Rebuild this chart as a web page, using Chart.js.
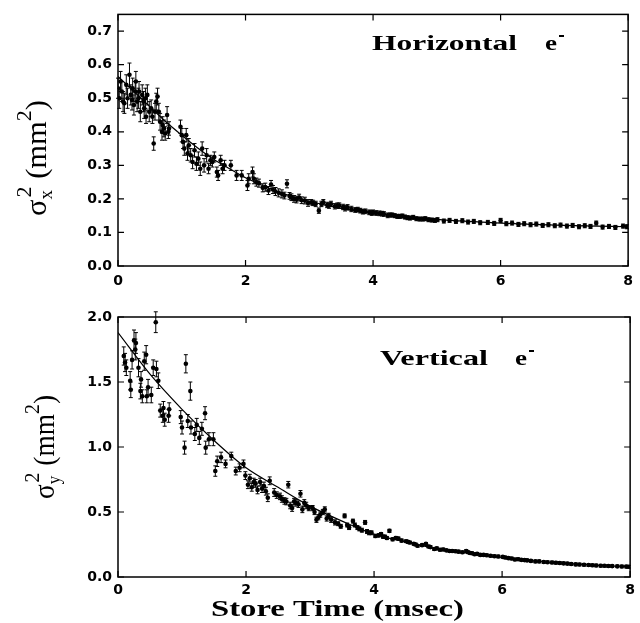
<!DOCTYPE html>
<html>
<head>
<meta charset="utf-8">
<script src="https://cdn.jsdelivr.net/npm/chart.js@4"></script>
<style>
  body { margin: 0; background: #fff; }
  #wrap { position: relative; width: 640px; height: 623px; }
  #wrap canvas { position: absolute; left: 0; }
</style>
</head>
<body>
<div id="wrap">
  <canvas id="topChart" width="640" height="300" style="top:0"></canvas>
  <canvas id="bottomChart" width="640" height="323" style="top:300px"></canvas>
</div>
<script>
// --- tick labels ---
const timeTicks = [0, 2, 4, 6, 8];
const horizTicks = [0.0, 0.1, 0.2, 0.3, 0.4, 0.5, 0.6, 0.7];
const vertTicks = [0.0, 0.5, 1.0, 1.5, 2.0];

// --- horizontal e- : store time (msec), sigma_x^2 (mm^2), error ---
const horizTime = [
  0.00, 0.02, 0.04, 0.06, 0.08, 0.10, 0.13, 0.15, 0.18, 0.20,
  0.22, 0.23, 0.25, 0.27, 0.28, 0.30, 0.32, 0.33, 0.35, 0.38,
  0.40, 0.41, 0.43, 0.44, 0.46, 0.49, 0.52, 0.54, 0.56, 0.58,
  0.60, 0.62, 0.64, 0.66, 0.69, 0.70, 0.72, 0.74, 0.77, 0.79,
  0.80, 0.98, 1.00, 1.02, 1.04, 1.07, 1.09, 1.11, 1.14, 1.17,
  1.20, 1.23, 1.26, 1.29, 1.32, 1.35, 1.39, 1.42, 1.45, 1.48,
  1.51, 1.55, 1.57, 1.61, 1.64, 1.67, 1.77, 1.86, 1.94, 2.03,
  2.05, 2.11, 2.13, 2.21, 2.27, 2.40, 2.43, 2.52, 2.65, 2.69,
  2.76, 2.84, 2.93, 2.98, 3.03, 3.10, 3.15, 3.22, 3.28, 3.34,
  3.40, 3.47, 3.53, 3.60, 3.66, 3.72, 3.80, 3.88, 3.94, 4.00,
  4.05, 4.10, 4.17, 4.23, 4.30, 4.38, 4.46, 4.54, 4.63, 4.73,
  4.82, 4.92, 5.01, 5.11, 5.20, 5.30, 5.40, 5.49, 5.58, 5.68,
  5.80, 5.90, 6.00, 6.09, 6.18, 6.28, 6.37, 6.47, 6.56, 6.66,
  6.75, 6.85, 6.94, 7.04, 7.13, 7.23, 7.32, 7.41, 7.50, 7.60,
  7.70, 7.80, 7.92, 7.98,
  2.17, 2.31, 2.36, 2.47, 2.57, 2.61, 2.72, 2.80, 2.88, 3.06,
  3.19, 3.31, 3.44, 3.56, 3.76, 3.84, 3.98, 4.14, 4.27, 4.34,
  4.42, 4.50, 4.58, 4.68, 4.78, 4.87, 4.97
];
const horizSigma = [
  0.53, 0.50, 0.55, 0.52, 0.49, 0.485, 0.54, 0.50, 0.57, 0.51,
  0.495, 0.53, 0.48, 0.52, 0.55, 0.49, 0.50, 0.52, 0.46, 0.51,
  0.49, 0.47, 0.50, 0.445, 0.51, 0.46, 0.47, 0.445, 0.365, 0.46,
  0.49, 0.505, 0.46, 0.43, 0.40, 0.42, 0.41, 0.395, 0.45, 0.40,
  0.41, 0.415, 0.39, 0.37, 0.35, 0.39, 0.335, 0.36, 0.33, 0.31,
  0.345, 0.305, 0.32, 0.29, 0.35, 0.30, 0.33, 0.29, 0.315, 0.31,
  0.325, 0.28, 0.27, 0.315, 0.29, 0.30, 0.30, 0.27, 0.27, 0.24,
  0.26, 0.28, 0.26, 0.247, 0.233, 0.243, 0.228, 0.218, 0.245, 0.209,
  0.200, 0.204, 0.195, 0.188, 0.190, 0.185, 0.165, 0.190, 0.182, 0.185,
  0.178, 0.180, 0.176, 0.175, 0.170, 0.167, 0.165, 0.163, 0.160, 0.160,
  0.158, 0.157, 0.155, 0.151, 0.152, 0.148, 0.149, 0.144, 0.145, 0.140,
  0.141, 0.137, 0.138, 0.134, 0.136, 0.133, 0.135, 0.131, 0.133, 0.129,
  0.130, 0.127, 0.136, 0.126, 0.128, 0.124, 0.126, 0.123, 0.125, 0.121,
  0.123, 0.120, 0.122, 0.119, 0.121, 0.117, 0.120, 0.118, 0.128, 0.116,
  0.118, 0.115, 0.119, 0.117,
  0.250, 0.235, 0.225, 0.222, 0.215, 0.210, 0.205, 0.198, 0.196, 0.188,
  0.185, 0.180, 0.180, 0.172, 0.168, 0.162, 0.158, 0.156, 0.152, 0.150,
  0.148, 0.146, 0.143, 0.141, 0.140, 0.138, 0.136
];
const horizErr = [
  0.03, 0.03, 0.03, 0.03, 0.03, 0.03, 0.03, 0.03, 0.035, 0.03,
  0.03, 0.03, 0.03, 0.03, 0.03, 0.03, 0.03, 0.03, 0.03, 0.03,
  0.03, 0.03, 0.03, 0.02, 0.03, 0.03, 0.025, 0.02, 0.02, 0.025,
  0.025, 0.025, 0.025, 0.025, 0.025, 0.025, 0.025, 0.02, 0.025, 0.02,
  0.02, 0.02, 0.02, 0.02, 0.02, 0.02, 0.02, 0.02, 0.02, 0.02,
  0.02, 0.02, 0.02, 0.02, 0.02, 0.02, 0.02, 0.015, 0.015, 0.015,
  0.015, 0.015, 0.015, 0.015, 0.015, 0.015, 0.015, 0.015, 0.015, 0.015,
  0.015, 0.015, 0.015, 0.012, 0.012, 0.012, 0.012, 0.012, 0.012, 0.01,
  0.01, 0.01, 0.01, 0.01, 0.008, 0.008, 0.008, 0.008, 0.008, 0.008,
  0.008, 0.008, 0.008, 0.008, 0.008, 0.007, 0.007, 0.007, 0.007, 0.007,
  0.007, 0.007, 0.007, 0.007, 0.006, 0.006, 0.006, 0.006, 0.006, 0.006,
  0.006, 0.006, 0.006, 0.006, 0.006, 0.006, 0.006, 0.006, 0.006, 0.006,
  0.006, 0.006, 0.006, 0.006, 0.006, 0.006, 0.006, 0.006, 0.006, 0.006,
  0.006, 0.006, 0.006, 0.006, 0.006, 0.006, 0.006, 0.006, 0.006, 0.006,
  0.006, 0.006, 0.006, 0.006,
  0.012, 0.012, 0.012, 0.012, 0.012, 0.01, 0.01, 0.01, 0.01, 0.008,
  0.008, 0.008, 0.008, 0.008, 0.007, 0.007, 0.007, 0.007, 0.006, 0.006,
  0.006, 0.006, 0.006, 0.006, 0.006, 0.006, 0.006
];
const horizFitTime = [0, 0.25, 0.5, 0.75, 1, 1.25, 1.5, 1.75, 2, 2.5, 3, 3.5, 4, 4.5, 5, 5.5, 6, 6.5, 7, 7.5, 8];
const horizFitSigma = [0.565, 0.52, 0.475, 0.43, 0.39, 0.352, 0.318, 0.29, 0.263, 0.222, 0.193, 0.172, 0.158, 0.147, 0.139, 0.133, 0.128, 0.124, 0.121, 0.119, 0.117];

// --- vertical e- : store time (msec), sigma_y^2 (mm^2), error ---
const vertTime = [
  0.09, 0.11, 0.13, 0.19, 0.20, 0.22, 0.25, 0.27, 0.28, 0.32,
  0.35, 0.36, 0.38, 0.41, 0.44, 0.45, 0.47, 0.52, 0.55, 0.59,
  0.60, 0.63, 0.66, 0.70, 0.71, 0.73, 0.79, 0.80, 0.98, 1.00,
  1.04, 1.06, 1.09, 1.13, 1.14, 1.20, 1.23, 1.27, 1.31, 1.36,
  1.37, 1.42, 1.49, 1.52, 1.55, 1.61, 1.68, 1.77, 1.84, 1.90,
  1.96, 1.99, 2.03, 2.06, 2.09, 2.12, 2.18, 2.22, 2.28, 2.34,
  2.37, 2.44, 2.53, 2.60, 2.66, 2.72, 2.78, 2.85, 2.88, 2.94,
  3.04, 3.10, 3.16, 3.23, 3.29, 3.39, 3.48, 3.54, 3.61, 3.67,
  3.77, 3.86, 3.92, 4.02, 4.11, 4.17, 4.24, 4.34, 4.43, 4.50,
  4.56, 4.62, 4.68, 4.81, 4.88, 4.94, 5.03, 5.13, 5.22, 5.32,
  5.44, 5.50, 5.57, 5.66, 5.76, 5.88, 6.01, 6.10, 6.20, 6.30,
  6.39, 6.52, 6.65, 6.78, 6.90, 7.02, 7.15, 7.28, 7.41, 7.54,
  7.66, 7.80, 7.94,
  2.15, 2.25, 2.31, 2.48, 2.56, 2.63, 2.69, 2.75, 2.82, 2.91,
  2.98, 3.07, 3.13, 3.20, 3.26, 3.33, 3.44, 3.58, 3.70, 3.74,
  3.81, 3.89, 3.96, 4.07, 4.14, 4.20, 4.29, 4.38,
  4.53, 4.65, 4.75, 4.85, 4.98, 5.08, 5.18, 5.27, 5.38, 5.47,
  5.53, 5.61, 5.71, 5.82, 5.94, 6.05, 6.15, 6.25, 6.35, 6.45,
  6.58, 6.71, 6.84, 6.96, 7.08, 7.21, 7.35, 7.47, 7.60, 7.72,
  7.87, 7.98
];
const vertSigma = [
  1.70, 1.65, 1.61, 1.51, 1.44, 1.67, 1.82, 1.75, 1.80, 1.61,
  1.43, 1.52, 1.39, 1.66, 1.71, 1.39, 1.46, 1.40, 1.61, 1.96,
  1.60, 1.51, 1.28, 1.24, 1.30, 1.21, 1.24, 1.29, 1.23, 1.15,
  0.995, 1.64, 1.20, 1.43, 1.15, 1.10, 1.17, 1.07, 1.14, 1.26,
  0.995, 1.06, 1.06, 0.815, 0.89, 0.92, 0.87, 0.93, 0.815, 0.84,
  0.87, 0.78, 0.71, 0.76, 0.69, 0.73, 0.67, 0.73, 0.70, 0.61,
  0.74, 0.65, 0.62, 0.585, 0.71, 0.53, 0.57, 0.64, 0.52, 0.55,
  0.53, 0.44, 0.48, 0.52, 0.47, 0.42, 0.39, 0.47, 0.38, 0.43,
  0.37, 0.42, 0.34, 0.315, 0.33, 0.31, 0.355, 0.30, 0.28, 0.275,
  0.265, 0.255, 0.24, 0.255, 0.23, 0.215, 0.21, 0.205, 0.20, 0.195,
  0.20, 0.185, 0.175, 0.17, 0.167, 0.16, 0.155, 0.145, 0.135, 0.132,
  0.128, 0.12, 0.115, 0.112, 0.108, 0.103, 0.097, 0.094, 0.09, 0.087,
  0.085, 0.082, 0.08,
  0.72, 0.68, 0.66, 0.63, 0.60, 0.58, 0.55, 0.58, 0.56, 0.57,
  0.53, 0.50, 0.46, 0.50, 0.45, 0.44, 0.41, 0.40, 0.40, 0.38,
  0.36, 0.35, 0.34, 0.32, 0.31, 0.30, 0.29, 0.295,
  0.27, 0.25, 0.245, 0.235, 0.22, 0.212, 0.20, 0.198, 0.19, 0.19,
  0.183, 0.178, 0.17, 0.163, 0.158, 0.15, 0.142, 0.137, 0.13, 0.124,
  0.12, 0.114, 0.11, 0.105, 0.10, 0.096, 0.092, 0.089, 0.086, 0.084,
  0.081, 0.079
];
const vertErr = [
  0.07, 0.07, 0.06, 0.07, 0.06, 0.07, 0.08, 0.08, 0.08, 0.07,
  0.06, 0.06, 0.05, 0.07, 0.07, 0.05, 0.06, 0.06, 0.06, 0.08,
  0.06, 0.06, 0.05, 0.05, 0.05, 0.05, 0.05, 0.05, 0.05, 0.05,
  0.05, 0.07, 0.05, 0.07, 0.05, 0.05, 0.05, 0.05, 0.05, 0.05,
  0.05, 0.05, 0.05, 0.04, 0.04, 0.04, 0.03, 0.03, 0.03, 0.03,
  0.03, 0.03, 0.03, 0.03, 0.03, 0.03, 0.03, 0.03, 0.03, 0.03,
  0.03, 0.03, 0.025, 0.025, 0.025, 0.025, 0.025, 0.025, 0.025, 0.025,
  0.02, 0.02, 0.02, 0.02, 0.02, 0.02, 0.015, 0.015, 0.015, 0.015,
  0.015, 0.015, 0.015, 0.012, 0.012, 0.012, 0.012, 0.012, 0.012, 0.01,
  0.01, 0.01, 0.01, 0.01, 0.01, 0.01, 0.01, 0.01, 0.01, 0.01,
  0.01, 0.01, 0.01, 0.01, 0.01, 0.01, 0.01, 0.01, 0.01, 0.01,
  0.01, 0.01, 0.01, 0.01, 0.01, 0.01, 0.01, 0.01, 0.01, 0.01,
  0.01, 0.01, 0.01,
  0.03, 0.03, 0.03, 0.025, 0.025, 0.025, 0.025, 0.025, 0.025, 0.025,
  0.02, 0.02, 0.02, 0.02, 0.02, 0.02, 0.015, 0.015, 0.015, 0.015,
  0.015, 0.015, 0.015, 0.012, 0.012, 0.012, 0.012, 0.012,
  0.01, 0.01, 0.01, 0.01, 0.01, 0.01, 0.01, 0.01, 0.01, 0.01,
  0.01, 0.01, 0.01, 0.01, 0.01, 0.01, 0.01, 0.01, 0.01, 0.01,
  0.01, 0.01, 0.01, 0.01, 0.01, 0.01, 0.01, 0.01, 0.01, 0.01,
  0.01, 0.01
];
const vertFitTime = [0, 0.5, 1, 1.5, 2, 2.5, 3, 3.5, 4, 4.5, 5, 5.5, 6, 6.5, 7, 7.5, 8];
const vertFitSigma = [1.88, 1.56, 1.29, 1.05, 0.84, 0.69, 0.545, 0.43, 0.33, 0.27, 0.215, 0.18, 0.15, 0.125, 0.105, 0.09, 0.08];

const toPoints = (xs, ys) => xs.map((x, i) => ({ x: x, y: ys[i] }));

// error bars, frame and inward ticks
const frameAndBars = {
    id: 'frameAndBars',
    afterDatasetsDraw(chart) {
        const { ctx, chartArea: a, scales: { x, y } } = chart;
        ctx.save();
        ctx.strokeStyle = '#000';
        ctx.lineWidth = 1;
        chart.data.datasets.forEach(ds => {
            if (!ds.errors) return;
            ds.data.forEach((p, i) => {
                const px = x.getPixelForValue(p.x);
                const y1 = y.getPixelForValue(p.y - ds.errors[i]);
                const y2 = y.getPixelForValue(p.y + ds.errors[i]);
                ctx.beginPath();
                ctx.moveTo(px, y1); ctx.lineTo(px, y2);
                ctx.moveTo(px - 2, y1); ctx.lineTo(px + 2, y1);
                ctx.moveTo(px - 2, y2); ctx.lineTo(px + 2, y2);
                ctx.stroke();
            });
        });
        ctx.lineWidth = 1.5;
        ctx.strokeRect(a.left, a.top, a.right - a.left, a.bottom - a.top);
        ctx.lineWidth = 1.2;
        ctx.beginPath();
        y.ticks.forEach(t => {
            const py = y.getPixelForValue(t.value);
            ctx.moveTo(a.left, py); ctx.lineTo(a.left + 6, py);
            ctx.moveTo(a.right, py); ctx.lineTo(a.right - 6, py);
        });
        x.ticks.forEach(t => {
            const px = x.getPixelForValue(t.value);
            ctx.moveTo(px, a.bottom); ctx.lineTo(px, a.bottom - 6);
            ctx.moveTo(px, a.top); ctx.lineTo(px, a.top + 6);
        });
        ctx.stroke();
        ctx.restore();
    }
};

// stretched serif text to match the figure's wide lettering
function stretchText(ctx, text, x, baseline, width, font) {
    ctx.font = font;
    const w = ctx.measureText(text).width;
    ctx.save();
    ctx.translate(x, baseline);
    ctx.scale(width / w, 1);
    ctx.fillText(text, 0, 0);
    ctx.restore();
}

function drawYTitle(ctx, sub, cx, cy, len) {
    const main = '29px "Liberation Serif"';
    const small = '18px "Liberation Serif"';
    const sup = '21px "Liberation Serif"';
    const m = (t, f) => { ctx.font = f; return ctx.measureText(t).width; };
    const sigmaW = m('σ', main), subW = m(sub, small), supW = m('2', sup);
    const openW = m(' (mm', main), closeW = m(')', main);
    const stackW = Math.max(subW, supW + 2);
    const total = sigmaW + stackW + openW + supW + closeW;
    ctx.save();
    ctx.translate(cx, cy);
    ctx.rotate(-Math.PI / 2);
    ctx.scale(len / total, 1);
    let p = -total / 2;
    ctx.font = main; ctx.fillText('σ', p, 0); p += sigmaW;
    ctx.font = small; ctx.fillText(sub, p, 6);
    ctx.font = sup; ctx.fillText('2', p + 2, -15); p += stackW;
    ctx.font = main; ctx.fillText(' (mm', p, 0); p += openW;
    ctx.font = sup; ctx.fillText('2', p, -15); p += supW;
    ctx.font = main; ctx.fillText(')', p, 0);
    ctx.restore();
}

const panelText = {
    id: 'panelText',
    afterDraw(chart, args, o) {
        const ctx = chart.ctx;
        ctx.save();
        ctx.fillStyle = '#000';
        ctx.textBaseline = 'alphabetic';
        ctx.textAlign = 'left';
        drawYTitle(ctx, o.sub, o.titleX, o.titleY, o.titleLen);
        stretchText(ctx, o.label, o.labelX, o.labelY, o.labelW, 'bold 21px "Liberation Serif"');
        stretchText(ctx, 'e', o.eX, o.labelY, 12, 'bold 21px "Liberation Serif"');
        ctx.fillRect(o.eX + 14, o.labelY - 15, 5, 2);
        if (o.xTitle) {
            stretchText(ctx, o.xTitle, o.xTitleX, o.xTitleY, o.xTitleW, 'bold 24px "Liberation Serif"');
        }
        ctx.restore();
    }
};

const tickFont = { family: 'DejaVu Sans', weight: 'bold', size: 14 };

function makeChart(id, pts, errs, fit, yTicks, yMax, padTop, xHeight, xPad, text) {
    return new Chart(document.getElementById(id), {
        type: 'scatter',
        data: {
            datasets: [{
                type: 'line',
                data: fit,
                borderColor: '#000',
                borderWidth: 1.2,
                pointRadius: 0,
                tension: 0.4,
                cubicInterpolationMode: 'monotone'
            }, {
                data: pts,
                errors: errs,
                backgroundColor: '#000',
                borderWidth: 0,
                pointRadius: 2.3
            }]
        },
        options: {
            responsive: false,
            animation: false,
            events: [],
            layout: { padding: { top: padTop, right: 4, left: 0, bottom: 0 } },
            plugins: { legend: { display: false }, tooltip: { enabled: false }, panelText: text },
            scales: {
                x: {
                    type: 'linear', min: 0, max: 8,
                    afterBuildTicks: s => { s.ticks = timeTicks.map(v => ({ value: v })); },
                    afterFit: s => { s.height = xHeight; },
                    grid: { display: false, drawTicks: false },
                    border: { display: false },
                    ticks: { font: tickFont, color: '#000', padding: xPad, autoSkip: false, maxRotation: 0, callback: v => String(v) }
                },
                y: {
                    type: 'linear', min: 0, max: yMax,
                    afterBuildTicks: s => { s.ticks = yTicks.map(v => ({ value: v })); },
                    afterFit: s => { s.width = 118; },
                    grid: { display: false, drawTicks: false },
                    border: { display: false },
                    ticks: { font: tickFont, color: '#000', padding: 6, autoSkip: false, callback: v => v.toFixed(1) }
                }
            }
        },
        plugins: [frameAndBars, panelText]
    });
}

makeChart('topChart',
    toPoints(horizTime, horizSigma), horizErr, toPoints(horizFitTime, horizFitSigma),
    horizTicks, 0.75, 8, 34, 7,
    { sub: 'x', titleX: 46, titleY: 158, titleLen: 116, label: 'Horizontal', labelX: 372, labelY: 50, labelW: 145, eX: 545 });

makeChart('bottomChart',
    toPoints(vertTime, vertSigma), vertErr, toPoints(vertFitTime, vertFitSigma),
    vertTicks, 2.0, 17, 46, 5,
    { sub: 'y', titleX: 54, titleY: 147, titleLen: 104, label: 'Vertical', labelX: 380, labelY: 65, labelW: 108, eX: 515,
      xTitle: 'Store Time (msec)', xTitleX: 211, xTitleY: 316, xTitleW: 253 });
</script>
</body>
</html>
